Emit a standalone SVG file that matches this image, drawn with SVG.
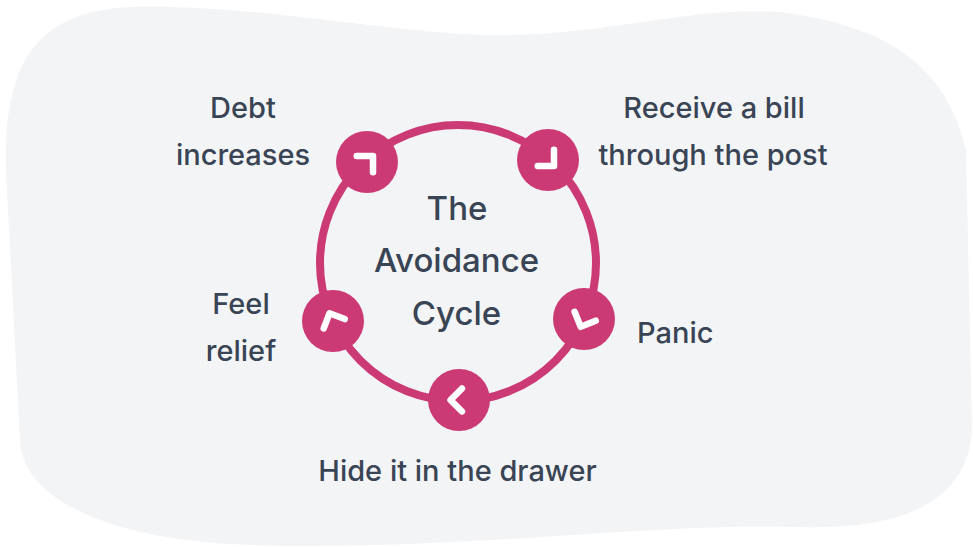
<svg xmlns="http://www.w3.org/2000/svg" width="973" height="547" viewBox="0 0 973 547">
  <style>
    .lbl { font-family: Inter, "Noto Sans", "Liberation Sans", sans-serif; font-weight: 500; font-size: 29px; fill: #394455; text-anchor: middle; }
    .title { font-size: 33px; }
    .node { fill: #cc3a76; }
    .chev { fill: none; stroke: #ffffff; stroke-width: 6.5; stroke-linecap: round; stroke-linejoin: round; }
    .ring { fill: none; stroke: #cc3a76; stroke-width: 8; }
  </style>
  <defs>
    <path id="chev" class="chev" d="M -3 -11.5 L 8.5 0 L -3 11.5"/>
  </defs>
  <rect width="973" height="547" fill="#ffffff"/>
  <path id="blob" fill="#f3f4f6" d="M 130 7 C 250 3, 400 35, 500 35 C 610 35, 690 6, 780 12 C 880 25, 945 60, 966 150 L 972 430 C 968 495, 915 530, 800 527 C 650 522, 450 552, 250 545 C 110 540, 22 500, 20 440 L 6 170 C 4 70, 30 12, 130 7 Z"/>

  <g id="connectors">
    <circle class="ring" cx="458" cy="263" r="138"/>
  </g>

  <g id="node-debt">
    <circle class="node" cx="367" cy="162" r="31"/>
    <use href="#chev" transform="translate(367 162) rotate(-45)"/>
    <text class="lbl" x="243" y="118">Debt</text>
    <text class="lbl" x="243" y="165">increases</text>
  </g>
  <g id="node-receive">
    <circle class="node" cx="548" cy="160" r="31"/>
    <use href="#chev" transform="translate(548 160) rotate(45)"/>
    <text class="lbl" x="714" y="118">Receive a bill</text>
    <text class="lbl" x="713" y="165">through the post</text>
  </g>
  <g id="node-panic">
    <circle class="node" cx="584" cy="319" r="31"/>
    <use href="#chev" transform="translate(584 319) rotate(113)"/>
    <text class="lbl" x="637" y="343" style="text-anchor:start">Panic</text>
  </g>
  <g id="node-hide">
    <circle class="node" cx="459" cy="400" r="31"/>
    <use href="#chev" transform="translate(459 400) rotate(180)"/>
    <text class="lbl" x="457.5" y="481">Hide it in the drawer</text>
  </g>
  <g id="node-relief">
    <circle class="node" cx="333" cy="321" r="31"/>
    <use href="#chev" transform="translate(333 321) rotate(246)"/>
    <text class="lbl" x="241" y="314">Feel</text>
    <text class="lbl" x="241" y="361">relief</text>
  </g>
  <g id="title">
    <text class="lbl title" x="457" y="220">The</text>
    <text class="lbl title" x="456.5" y="272">Avoidance</text>
    <text class="lbl title" x="456.5" y="325">Cycle</text>
  </g>
</svg>
